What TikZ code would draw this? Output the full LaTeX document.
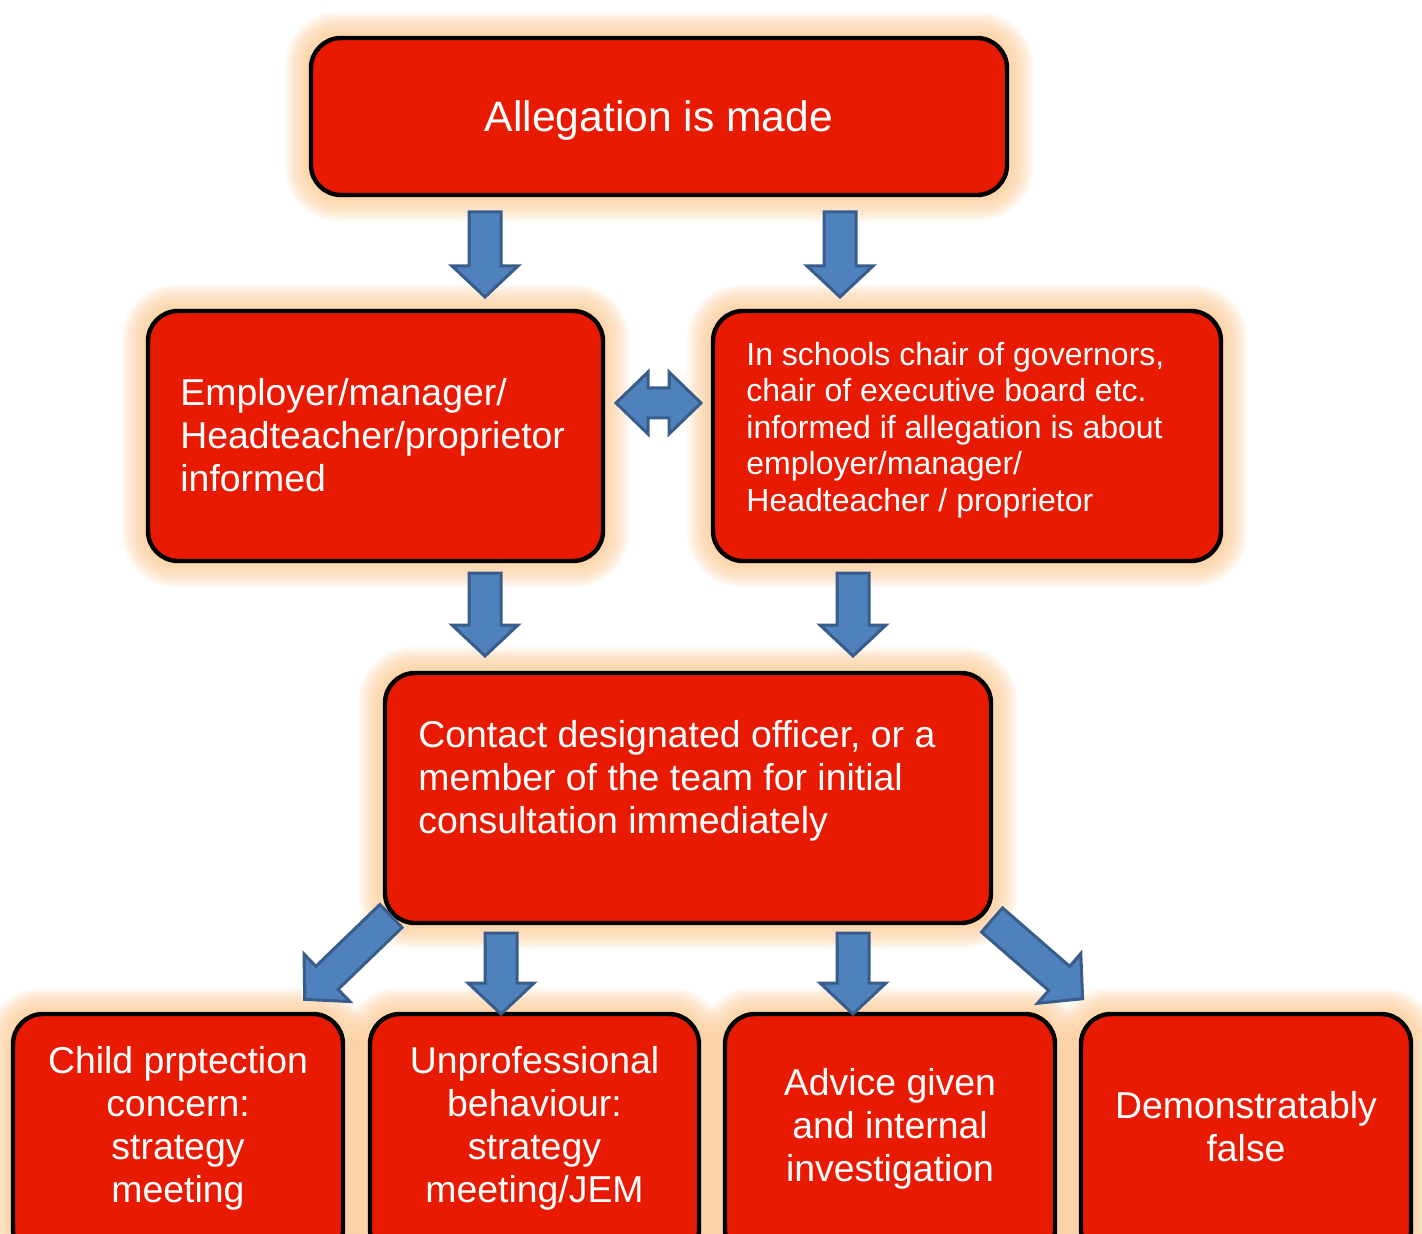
\documentclass[tikz,border=0pt]{standalone}
\usepackage{fontspec}
\setmainfont{Liberation Sans}
\pgfdeclarelayer{background}
\pgfsetlayers{background,main}
\definecolor{boxred}{HTML}{E81A02}
\definecolor{glowc}{HTML}{FBC994}
\definecolor{arrfill}{HTML}{4F81BD}
\definecolor{arrline}{HTML}{385D8A}
\tikzset{
  box/.style={draw=black, line width=2.2pt, fill=boxred, rounded corners=15pt, inner sep=0pt},
  txt/.style={text=white, inner sep=0pt, font=\fontsize{18.7}{21.5}\selectfont},
  blk/.style={fill=arrfill, draw=arrline, line width=1.5pt, line join=miter},
}
\newcommand\boxglow[1]{%
  \foreach \r in {1,2,...,12}{
    \fill[glowc, opacity=0.11, rounded corners={15pt+\r pt}]
      ([shift={(-\r pt,-\r pt)}]#1.south west) rectangle ([shift={(\r pt,\r pt)}]#1.north east);
  }}
\newcommand\blockarr[3]{% #1 tail coordinate, #2 angle, #3 length (px)
  \begin{scope}[shift={(#1)}, rotate=#2]
    \draw[blk] (0,-16) -- ({#3-31},-16) -- ({#3-31},-33) -- (#3,0) -- ({#3-31},33) -- ({#3-31},16) -- (0,16) -- cycle;
  \end{scope}}
\begin{document}
\begin{tikzpicture}[x=0.5pt, y=-0.5pt]
\useasboundingbox (0,0) rectangle (1422,1234);
\clip (0,0) rectangle (1422,1234);
% boxes
\node[box, minimum width=696*0.5pt, minimum height=157*0.5pt] (top) at (659,116.5) {};
\node[box, minimum width=455*0.5pt, minimum height=250*0.5pt] (empl) at (375.5,436) {};
\node[box, minimum width=508*0.5pt, minimum height=250*0.5pt] (chair) at (967,436) {};
\node[box, minimum width=606*0.5pt, minimum height=250*0.5pt] (contact) at (688,798) {};
\node[box, minimum width=330*0.5pt, minimum height=246*0.5pt] (b1) at (178,1137) {};
\node[box, minimum width=329*0.5pt, minimum height=246*0.5pt] (b2) at (534.5,1137) {};
\node[box, minimum width=330*0.5pt, minimum height=246*0.5pt] (b3) at (890,1137) {};
\node[box, minimum width=330*0.5pt, minimum height=246*0.5pt] (b4) at (1246,1137) {};
\begin{pgfonlayer}{background}
  \boxglow{top}\boxglow{empl}\boxglow{chair}\boxglow{contact}
  \boxglow{b1}\boxglow{b2}\boxglow{b3}\boxglow{b4}
\end{pgfonlayer}
% texts
\node[txt, font=\fontsize{21.3}{24}\selectfont, anchor=base] (t0) at (659,132) {Allegation is made};
\node[txt, align=left, anchor=west] (t1) at (180,435) {Employer/manager/\\Headteacher/proprietor\\informed};
\node[txt, align=left, anchor=west, font=\fontsize{16}{18.25}\selectfont] (t2) at (746,430) {In schools chair of governors,\\chair of executive board etc.\\informed if allegation is about\\employer/manager/\\Headteacher / proprietor};
\node[txt, align=left, anchor=west] (t3) at (418,781) {Contact designated officer, or a\\member of the team for initial\\consultation immediately};
\node[txt, align=center] (t4) at (178,1128) {Child prptection\\concern:\\strategy\\meeting};
\node[txt, align=center] (t5) at (534.5,1128) {Unprofessional\\behaviour:\\strategy\\meeting/JEM};
\node[txt, align=center] (t6) at (890,1129) {Advice given\\and internal\\investigation};
\node[txt, align=center] (t7) at (1246,1127) {Demonstratably\\false};
% arrow tails
\coordinate (a1) at (485,212);
\coordinate (a2) at (840,212);
\coordinate (a3) at (485,573);
\coordinate (a4) at (853,573);
\coordinate (a5) at (501,933);
\coordinate (a6) at (853,933);
\coordinate (a7) at (391,916);
\coordinate (a8) at (992,920);
\blockarr{a1}{-90}{85}
\blockarr{a2}{-90}{85}
\blockarr{a3}{-90}{83}
\blockarr{a4}{-90}{83}
\blockarr{a5}{-90}{81}
\blockarr{a6}{-90}{81}
\blockarr{a7}{224}{120}
\blockarr{a8}{-41}{120}
% double arrow between empl and chair
\coordinate (dl) at (616,403);
\begin{scope}[shift={(dl)}]
  \draw[blk] (0,0) -- (32,-31) -- (32,-15) -- (53,-15) -- (53,-31) -- (85,0) -- (53,31) -- (53,15) -- (32,15) -- (32,31) -- cycle;
\end{scope}
\end{tikzpicture}
\end{document}
